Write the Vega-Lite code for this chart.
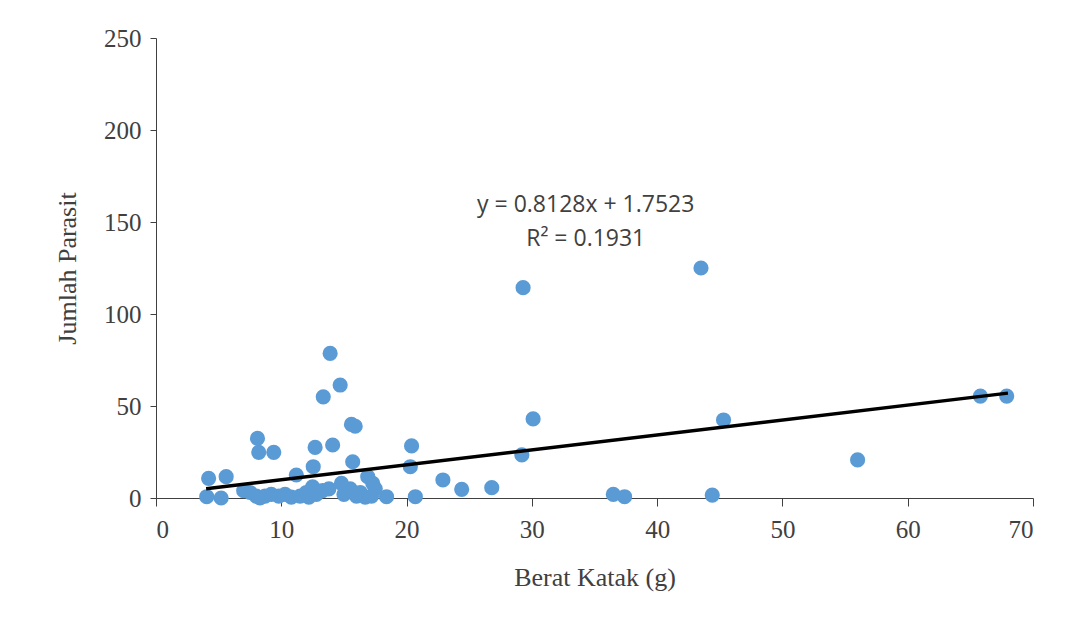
{
  "$schema": "https://vega.github.io/schema/vega-lite/v6.json",
  "width": 877,
  "height": 460,
  "autosize": {"type": "none"},
  "padding": {"left": 156, "top": 38, "right": 46, "bottom": 128},
  "background": "white",
  "config": {"view": {"stroke": null}},
  "datasets": {
    "points": [
      {"x": 4.05, "y": 0.7}, {"x": 4.2, "y": 10.7}, {"x": 5.2, "y": 0}, {"x": 5.6, "y": 11.6},
      {"x": 7.0, "y": 4}, {"x": 7.5, "y": 3}, {"x": 8.0, "y": 1}, {"x": 8.3, "y": 0}, {"x": 8.7, "y": 1},
      {"x": 9.2, "y": 2}, {"x": 9.8, "y": 1}, {"x": 10.3, "y": 2}, {"x": 10.8, "y": 0.5}, {"x": 11.5, "y": 1},
      {"x": 12.0, "y": 3}, {"x": 12.2, "y": 0.5}, {"x": 12.5, "y": 6}, {"x": 12.8, "y": 2}, {"x": 13.3, "y": 4},
      {"x": 13.8, "y": 5}, {"x": 14.8, "y": 8}, {"x": 15.0, "y": 2}, {"x": 15.5, "y": 5}, {"x": 16.0, "y": 1},
      {"x": 16.3, "y": 3}, {"x": 16.7, "y": 0.5}, {"x": 17.2, "y": 1}, {"x": 17.5, "y": 5},
      {"x": 8.1, "y": 32.4}, {"x": 8.2, "y": 24.8}, {"x": 9.4, "y": 24.8}, {"x": 13.9, "y": 78.6},
      {"x": 14.7, "y": 61.4}, {"x": 13.35, "y": 55}, {"x": 15.6, "y": 40}, {"x": 15.9, "y": 39},
      {"x": 12.7, "y": 27.5}, {"x": 14.1, "y": 28.8}, {"x": 15.7, "y": 19.7}, {"x": 20.4, "y": 28.3},
      {"x": 20.3, "y": 17}, {"x": 12.55, "y": 17}, {"x": 11.2, "y": 12.5}, {"x": 16.9, "y": 11.6},
      {"x": 17.3, "y": 8}, {"x": 20.7, "y": 0.7}, {"x": 18.4, "y": 0.7},
      {"x": 29.3, "y": 114.3}, {"x": 30.1, "y": 43}, {"x": 22.9, "y": 9.8}, {"x": 24.4, "y": 4.7},
      {"x": 26.8, "y": 5.6}, {"x": 29.2, "y": 23.4}, {"x": 36.5, "y": 2}, {"x": 37.4, "y": 0.7},
      {"x": 43.5, "y": 125}, {"x": 45.3, "y": 42.4}, {"x": 44.4, "y": 1.6}, {"x": 56.0, "y": 20.7},
      {"x": 65.8, "y": 55.4}, {"x": 67.9, "y": 55.4}
    ],
    "trend": [{"x": 4, "y": 5}, {"x": 68, "y": 57}],
    "labels": [
      {"x": 34.3, "y": 159, "label": "y = 0.8128x + 1.7523"},
      {"x": 34.3, "y": 141, "label": "R² = 0.1931"}
    ]
  },
  "layer": [
    {
      "data": {"name": "points"},
      "mark": {"type": "circle", "size": 230, "color": "#5B9BD5", "opacity": 1},
      "encoding": {
        "x": {
          "field": "x", "type": "quantitative",
          "scale": {"domain": [0, 70], "nice": false},
          "axis": {
            "title": "Berat Katak (g)", "values": [0, 10, 20, 30, 40, 50, 60, 70],
            "grid": false, "domainColor": "#404040", "tickColor": "#404040", "tickSize": 8,
            "labelFont": "Liberation Serif", "labelFontSize": 25, "labelColor": "#404040", "labelPadding": 11,
            "titleFont": "Liberation Serif", "titleFontSize": 26, "titleFontWeight": "normal", "titleColor": "#404040", "titlePadding": 22
          }
        },
        "y": {
          "field": "y", "type": "quantitative",
          "scale": {"domain": [0, 250], "nice": false},
          "axis": {
            "title": "Jumlah Parasit", "values": [0, 50, 100, 150, 200, 250],
            "grid": false, "domainColor": "#404040", "tickColor": "#404040", "tickSize": 6,
            "labelFont": "Liberation Serif", "labelFontSize": 25, "labelColor": "#404040", "labelPadding": 9,
            "titleFont": "Liberation Serif", "titleFontSize": 26, "titleFontWeight": "normal", "titleColor": "#404040", "titlePadding": 23
          }
        }
      }
    },
    {
      "data": {"name": "trend"},
      "mark": {"type": "line", "color": "black", "strokeWidth": 3.5},
      "encoding": {
        "x": {"field": "x", "type": "quantitative"},
        "y": {"field": "y", "type": "quantitative"}
      }
    },
    {
      "data": {"name": "labels"},
      "mark": {"type": "text", "font": "Open Sans", "fontSize": 23, "color": "#404040", "align": "center", "baseline": "middle"},
      "encoding": {
        "x": {"field": "x", "type": "quantitative"},
        "y": {"field": "y", "type": "quantitative"},
        "text": {"field": "label"}
      }
    }
  ]
}
